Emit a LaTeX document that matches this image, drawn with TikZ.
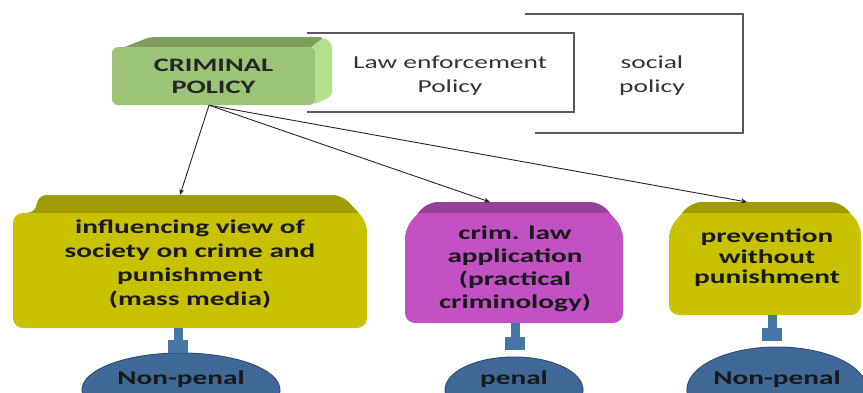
\documentclass[tikz,border=0pt]{standalone}
\usepackage{fontspec}
\newfontfamily\calib[FakeStretch=1.5]{Carlito}
\usetikzlibrary{arrows.meta, shapes.geometric}

\definecolor{crimgreen}{HTML}{9CC476}
\definecolor{crimtop}{HTML}{7E9E5C}
\definecolor{crimside}{HTML}{B4DF8C}
\definecolor{olivebox}{HTML}{C8C200}
\definecolor{olivetop}{HTML}{A09C00}
\definecolor{orchid}{HTML}{C251C4}
\definecolor{orchidtop}{HTML}{96409A}
\definecolor{diskblue}{HTML}{3F6897}
\definecolor{diskedge}{HTML}{2E5079}
\definecolor{pipeblue}{HTML}{4676A6}

\tikzset{
  facebox/.style={rounded corners=6pt, fill=crimgreen, minimum width=203pt, minimum height=58pt,
    align=center, font=\calib\bfseries\fontsize{19}{22}\selectfont, text=black!85},
  plaintext/.style={align=center, font=\calib\fontsize{18.3}{24}\selectfont, text=black!80},
  bracket/.style={draw=black!65, line width=1.5pt},
  boxtext/.style={align=center, font=\calib\bfseries\fontsize{19.5}{24}\selectfont, text=black!90},
  link/.style={draw=black!85, line width=0.9pt, -{Stealth[length=6pt,width=5pt]}},
  disk/.style={ellipse, fill=diskblue, draw=diskedge, line width=1pt, text height=14pt, text depth=26pt,
    font=\calib\bfseries\fontsize{19.5}{24}\selectfont, text=black!90},
  pipe/.style={draw=pipeblue, line width=9pt, -{Rectangle[length=13pt,width=20pt]}},
}

\begin{document}
\begin{tikzpicture}[x=1pt, y=-1pt, every node/.style={inner sep=0pt}]
  \useasboundingbox[fill=white] (0,0) rectangle (863,392);
  % open boxes behind the criminal policy block
  \draw[bracket] (525,14) -- (743,14) -- (743,133) -- (535,133);
  \draw[bracket] (307,33) -- (574,33) -- (574,112) -- (307,112);
  \node[plaintext] (lawpol) at (450,76) {Law enforcement\\Policy};
  \node[plaintext] (socpol) at (652,75.5) {social\\policy};
  % criminal policy block
  \fill[crimtop, rounded corners=4pt] (112,52) -- (150,37) -- (324,37) -- (315,52) -- cycle;
  \fill[crimside, rounded corners=4pt] (305,52) -- (324,37) -- (332,44) -- (332,96) -- (313,105) -- cycle;
  \node[facebox] (crim) at (213.5,76) {CRIMINAL\\POLICY};
  % lower blocks
  \fill[olivebox, rounded corners=10pt, path picture={\fill[olivetop] (0,190) rectangle (400,213);}]
    (13,328) -- (13,213) -- (37,213) -- (37,195) -- (342,195) -- (367,222) -- (367,328) -- cycle;
  \node[boxtext] (media) at (190,264) {influencing view of\\society on crime and\\punishment\\(mass media)};
  \fill[orchid, rounded corners=10pt, path picture={\fill[orchidtop] (400,198) rectangle (630,213);}]
    (405,323) -- (405,228) -- (428,202) -- (600,202) -- (623,228) -- (623,323) -- cycle;
  \node[boxtext, font=\calib\bfseries\fontsize{19.5}{23}\selectfont] (appl) at (515,268.5) {crim. law\\application\\(practical\\criminology)};
  \fill[olivebox, rounded corners=10pt, path picture={\fill[olivetop] (660,198) rectangle (870,213);}]
    (669,315) -- (669,228) -- (692,202) -- (840,202) -- (861,225) -- (861,315) -- cycle;
  \node[boxtext, font=\calib\bfseries\fontsize{19.5}{20.5}\selectfont] (prev) at (767,258) {prevention\\without\\punishment};
  \coordinate (mediatop) at (180,195);
  \coordinate (appltop) at (490,202);
  \coordinate (prevtop) at (747,202);
  \coordinate (mediabot) at (178,328);
  \coordinate (applbot) at (515,323);
  \coordinate (prevbot) at (772,315);
  % outcomes
  \node[disk, minimum width=198pt, minimum height=74pt] (np1) at (181,390) {Non-penal};
  \node[disk, minimum width=138pt, minimum height=66pt] (pen) at (514,390) {penal};
  \node[disk, minimum width=170pt, minimum height=86pt] (np2) at (777,390) {Non-penal};
  \draw[pipe] (mediabot) -- (mediabot |- np1.north);
  \draw[pipe] (applbot) -- ([yshift=7pt]applbot |- pen.north);
  \draw[pipe] (prevbot) -- ([yshift=6pt]prevbot |- np2.north);
  % links
  \draw[link] ([xshift=-4.5pt]crim.south) -- (mediatop);
  \draw[link] ([xshift=-4.5pt]crim.south) -- (appltop);
  \draw[link] ([xshift=-4.5pt]crim.south) -- (prevtop);
\end{tikzpicture}
\end{document}
